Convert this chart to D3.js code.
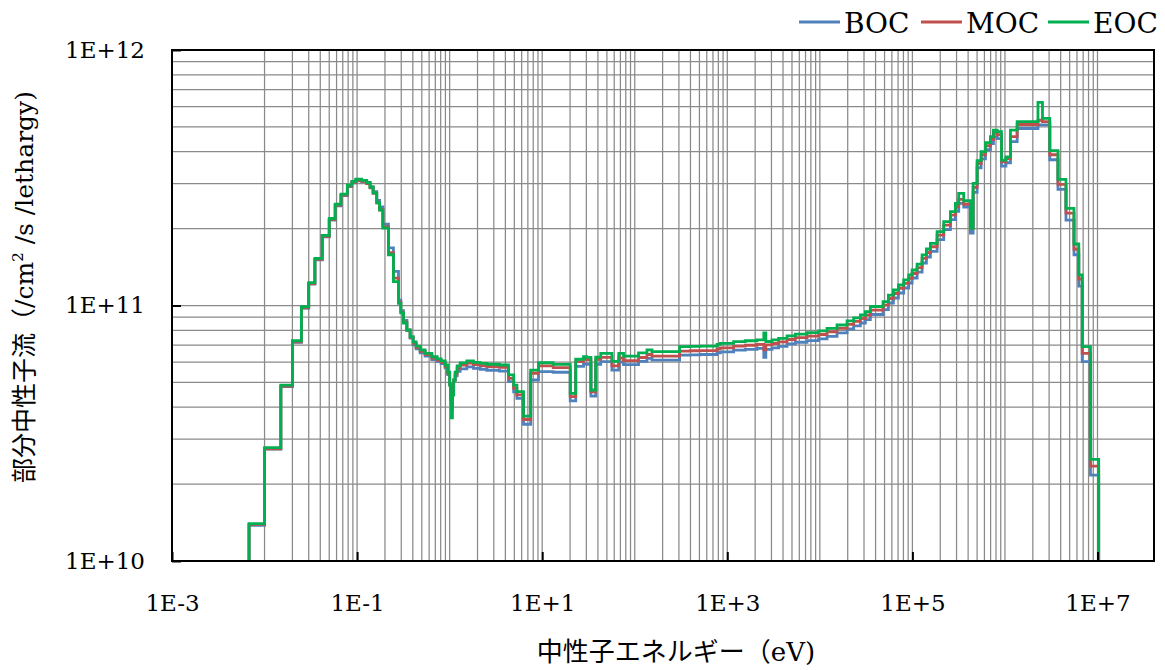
<!DOCTYPE html>
<html><head><meta charset="utf-8">
<script src="https://cdn.jsdelivr.net/npm/d3@7"></script>
<style>body{margin:0;background:#fff}svg{display:block}</style>
</head><body><svg id="chart" width="1165" height="670"></svg>
<script>
// group lower edges (eV); last entry is upper edge of last group
const energyEdges = [6.8e-3,1.0e-2,1.5e-2,2.0e-2,2.5e-2,3.0e-2,3.5e-2,4.2e-2,5.0e-2,5.8e-2,6.7e-2,7.85e-2,8.76e-2,9.68e-2,
0.112,0.127,0.138,0.149,0.163,0.175,0.190,0.218,0.247,0.280,0.297,0.317,0.345,0.374,0.403,0.434,0.480,0.543,0.642,0.733,0.809,0.894,0.952,
1.0,1.025,1.046,1.072,1.105,1.147,1.205,1.299,1.534,1.808,2.136,2.525,3.455,4.322,4.918,5.328,6.278,7.509,9.12,13.15,20.08,23.02,27.96,30.28,33.61,37.87,42.90,56.68,67.14,75.66,
109.9,135.5,153.4,305.0,398.1,510.6,773.8,840.3,1170,1565,2095,2481,2608,3042,3586,4420,5435,7270,9705,11960,15340,19690,23200,27400,31030,35140,48220,55030,62320,70590,80540,91200,99260,
1.124e5,1.273e5,1.417e5,1.565e5,1.849e5,2.180e5,2.575e5,2.916e5,3.166e5,3.586e5,4.236e5,4.531e5,5.006e5,5.529e5,6.155e5,6.97e5,7.51e5,8.24e5,9.17e5,
1.025e6,1.147e6,1.355e6,2.274e6,2.544e6,3.051e6,3.741e6,4.565e6,5.57e6,6.279e6,6.832e6,8.40e6,1.03e7];

const eoc = [1.40e10,2.78e10,4.88e10,7.28e10,9.89e10,1.23e11,1.53e11,1.88e11,2.19e11,2.49e11,2.73e11,2.96e11,3.06e11,3.12e11,
3.09e11,3.03e11,2.91e11,2.76e11,2.52e11,2.36e11,2.01e11,1.58e11,1.24e11,1.02e11,9.35e10,8.54e10,8.02e10,7.55e10,7.20e10,6.94e10,6.70e10,6.50e10,6.30e10,6.18e10,6.07e10,5.85e10,5.49e10,
4.88e10,4.27e10,3.63e10,4.46e10,5.11e10,5.49e10,5.80e10,5.96e10,6.07e10,5.99e10,5.94e10,5.89e10,5.85e10,5.35e10,4.88e10,4.60e10,3.69e10,5.59e10,5.97e10,5.88e10,4.53e10,6.16e10,6.30e10,6.27e10,4.67e10,6.28e10,6.50e10,6.04e10,6.49e10,6.34e10,
6.52e10,6.70e10,6.60e10,6.90e10,6.92e10,6.94e10,7.04e10,7.11e10,7.22e10,7.28e10,7.33e10,7.81e10,7.23e10,7.33e10,7.44e10,7.60e10,7.72e10,7.83e10,7.95e10,8.14e10,8.39e10,8.70e10,8.94e10,9.18e10,9.47e10,9.91e10,1.035e11,1.099e11,1.150e11,1.203e11,1.259e11,1.317e11,1.377e11,
1.453e11,1.577e11,1.664e11,1.752e11,1.945e11,2.128e11,2.329e11,2.512e11,2.749e11,2.57e11,2.005e11,3.008e11,3.687e11,3.999e11,4.337e11,4.58e11,4.86e11,4.79e11,3.71e11,
3.82e11,4.86e11,5.24e11,6.24e11,5.40e11,4.035e11,3.118e11,2.401e11,1.741e11,1.317e11,6.90e10,2.50e10];

const moc = [1.39e10,2.75e10,4.84e10,7.21e10,9.80e10,1.219e11,1.516e11,1.863e11,2.17e11,2.468e11,2.705e11,2.933e11,3.032e11,3.092e11,
3.062e11,3.003e11,2.89e11,2.75e11,2.52e11,2.37e11,2.03e11,1.61e11,1.28e11,1.03e11,9.40e10,8.60e10,8.0e10,7.50e10,7.11e10,6.85e10,6.61e10,6.42e10,6.22e10,6.10e10,5.99e10,5.77e10,5.42e10,
4.88e10,4.45e10,3.95e10,4.60e10,5.10e10,5.40e10,5.69e10,5.84e10,5.95e10,5.87e10,5.82e10,5.77e10,5.73e10,5.19e10,4.74e10,4.47e10,3.58e10,5.43e10,5.80e10,5.71e10,4.40e10,6.03e10,6.17e10,6.14e10,4.59e10,6.15e10,6.27e10,5.80e10,6.23e10,6.09e10,
6.26e10,6.43e10,6.34e10,6.63e10,6.65e10,6.66e10,6.76e10,6.83e10,6.93e10,6.99e10,7.04e10,6.70e10,7.01e10,7.10e10,7.21e10,7.36e10,7.48e10,7.59e10,7.70e10,7.89e10,8.13e10,8.43e10,8.66e10,8.89e10,9.18e10,9.60e10,1.003e11,1.065e11,1.114e11,1.166e11,1.220e11,1.276e11,1.334e11,
1.408e11,1.528e11,1.612e11,1.698e11,1.885e11,2.062e11,2.257e11,2.434e11,2.60e11,2.49e11,2.00e11,2.90e11,3.59e11,3.89e11,4.22e11,4.46e11,4.73e11,4.66e11,3.65e11,
3.76e11,4.58e11,5.11e11,5.31e11,5.24e11,3.89e11,2.98e11,2.30e11,1.66e11,1.27e11,6.50e10,2.35e10];

const boc = [1.38e10,2.74e10,4.81e10,7.18e10,9.76e10,1.214e11,1.509e11,1.855e11,2.161e11,2.457e11,2.693e11,2.92e11,3.019e11,3.078e11,
3.062e11,3.01e11,2.91e11,2.79e11,2.58e11,2.43e11,2.08e11,1.68e11,1.36e11,1.05e11,9.55e10,8.75e10,8.0e10,7.45e10,7.02e10,6.77e10,6.53e10,6.34e10,6.14e10,6.03e10,5.92e10,5.70e10,5.37e10,
4.95e10,4.70e10,4.30e10,4.80e10,5.10e10,5.30e10,5.52e10,5.65e10,5.75e10,5.67e10,5.63e10,5.58e10,5.54e10,5.04e10,4.59e10,4.33e10,3.43e10,5.11e10,5.51e10,5.48e10,4.23e10,5.78e10,5.91e10,5.88e10,4.42e10,5.89e10,6.03e10,5.59e10,6.01e10,5.87e10,
6.04e10,6.21e10,6.11e10,6.39e10,6.41e10,6.43e10,6.52e10,6.59e10,6.69e10,6.74e10,6.79e10,6.27e10,6.73e10,6.82e10,6.92e10,7.07e10,7.18e10,7.29e10,7.40e10,7.57e10,7.81e10,8.10e10,8.32e10,8.54e10,8.81e10,9.22e10,9.63e10,1.023e11,1.070e11,1.119e11,1.171e11,1.225e11,1.281e11,
1.352e11,1.467e11,1.548e11,1.630e11,1.810e11,1.980e11,2.167e11,2.337e11,2.51e11,2.43e11,1.92e11,2.77e11,3.46e11,3.75e11,4.07e11,4.30e11,4.56e11,4.50e11,3.51e11,
3.62e11,4.38e11,4.93e11,5.09e11,5.09e11,3.72e11,2.85e11,2.16e11,1.58e11,1.19e11,6.03e10,2.17e10];

const seriesNames = ["BOC","MOC","EOC"];
const seriesColors = ["#4F81BD","#C0504D","#00B050"];
const xTickValues = [1e-3,1e-1,1e1,1e3,1e5,1e7];
const xTickLabels = ["1E-3","1E-1","1E+1","1E+3","1E+5","1E+7"];
const yTickValues = [1e10,1e11,1e12];
const yTickLabels = ["1E+10","1E+11","1E+12"];
const xTitle = "中性子エネルギー（eV)";

const FONT = "'DejaVu Serif','Noto Sans CJK JP',serif";
const L = 172, T = 50, B = 561, R = 1154;
const svg = d3.select("#chart");
const x = d3.scaleLog().domain([1e-3, 1e7]).range([L, 1097.5]);
const y = d3.scaleLog().domain([1e10, 1e12]).range([B, T]);

// grid
const grid = svg.append("g").attr("stroke", "#8a8a8a").attr("stroke-width", 1.25);
const vLines = [];
for (let k = -2; k <= 6; k++) for (let m = 1; m <= 9; m++) vLines.push(m * Math.pow(10, k));
vLines.push(1e7);
grid.selectAll("line.v").data(vLines).join("line")
  .attr("x1", d => x(d)).attr("x2", d => x(d)).attr("y1", T).attr("y2", B);
const hLines = [];
for (let k = 10; k <= 11; k++) for (let m = 1; m <= 9; m++) hLines.push(m * Math.pow(10, k));
grid.selectAll("line.h").data(hLines.filter(d => d > 1e10)).join("line")
  .attr("x1", L).attr("x2", R).attr("y1", d => y(d)).attr("y2", d => y(d));

// series
const line = d3.line().x(d => x(d[0])).y(d => y(d[1])).curve(d3.curveStepAfter);
[boc, moc, eoc].forEach((vals, si) => {
  const pts = [[energyEdges[0], 1e10]];
  vals.forEach((v, i) => pts.push([energyEdges[i], v]));
  const last = energyEdges[energyEdges.length - 1];
  pts.push([last, vals[vals.length - 1]]);
  pts.push([last, 1e10]);
  svg.append("path").attr("d", line(pts)).attr("fill", "none")
    .attr("stroke", seriesColors[si]).attr("stroke-width", 2.8)
    .attr("stroke-linejoin", "miter");
});

// frame
svg.append("rect").attr("x", L).attr("y", T).attr("width", R - L).attr("height", B - T)
  .attr("fill", "none").attr("stroke", "#000").attr("stroke-width", 2);

// axes
const yAxis = d3.axisLeft(y).tickValues(yTickValues).tickFormat((d, i) => yTickLabels[i])
  .tickSizeInner(-9).tickSizeOuter(0).tickPadding(27);
const gy = svg.append("g").attr("transform", `translate(${L},0)`).call(yAxis);
const xAxis = d3.axisBottom(x).tickValues(xTickValues).tickFormat((d, i) => xTickLabels[i])
  .tickSizeInner(-9).tickSizeOuter(0).tickPadding(34);
const gx = svg.append("g").attr("transform", `translate(0,${B})`).call(xAxis);
[gx, gy].forEach(g => {
  g.select(".domain").remove();
  g.selectAll(".tick line").attr("stroke", "#000").attr("stroke-width", 2);
  g.selectAll(".tick text").attr("font-family", FONT).attr("font-size", 23).attr("fill", "#000");
});

// legend
const legX = [799, 921, 1048];
seriesNames.forEach((n, i) => {
  svg.append("line").attr("x1", legX[i]).attr("x2", legX[i] + 41).attr("y1", 22).attr("y2", 22)
    .attr("stroke", seriesColors[i]).attr("stroke-width", 3);
  svg.append("text").attr("x", legX[i] + 45).attr("y", 32.5).text(n)
    .attr("font-family", FONT).attr("font-size", 28).attr("fill", "#000");
});

// titles
svg.append("text").attr("x", 676).attr("y", 661).attr("text-anchor", "middle")
  .attr("font-family", FONT).attr("font-size", 26).attr("fill", "#000").text(xTitle);
const yt = svg.append("text").attr("transform", "translate(33,287) rotate(-90)")
  .attr("text-anchor", "middle").attr("font-family", FONT).attr("font-size", 25).attr("fill", "#000");
yt.append("tspan").text("部分中性子流（/cm");
yt.append("tspan").attr("font-size", 15).attr("dy", -10).text("2");
yt.append("tspan").attr("dy", 10).text(" /s /lethargy)");
</script></body></html>
